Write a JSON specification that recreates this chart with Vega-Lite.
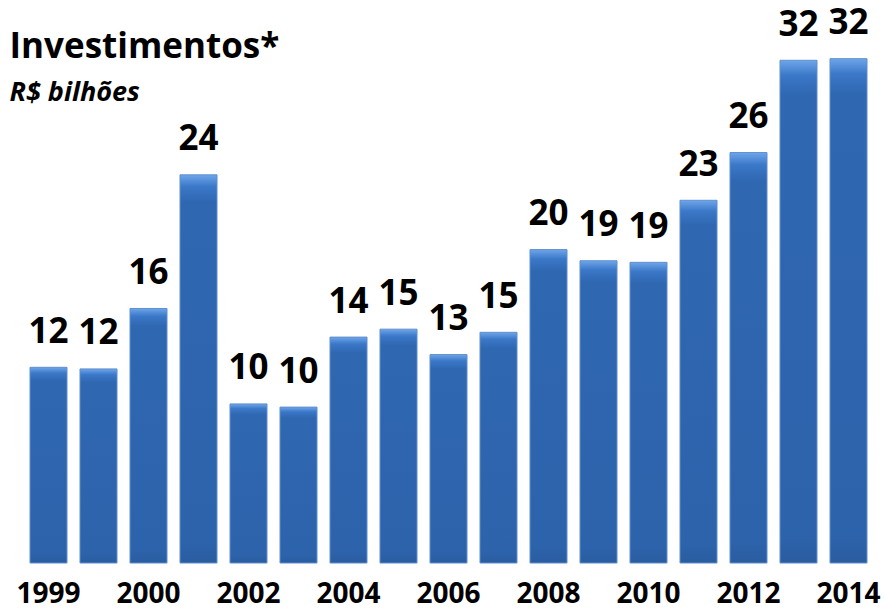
{
  "$schema": "https://vega.github.io/schema/vega-lite/v6.json",
  "width": 850,
  "height": 563,
  "autosize": {"type": "none"},
  "padding": {"left": 23.5, "top": 0, "right": 11.5, "bottom": 45},
  "background": "white",
  "config": {"view": {"stroke": null}},
  "title": {
    "text": "Investimentos*",
    "subtitle": "R$ bilhões",
    "anchor": "start",
    "frame": "group",
    "font": "Open Sans",
    "fontSize": 35,
    "fontWeight": "bold",
    "color": "#000000",
    "subtitleFont": "Open Sans",
    "subtitleFontSize": 27,
    "subtitleFontWeight": "bold",
    "subtitleFontStyle": "italic",
    "subtitleColor": "#000000",
    "subtitlePadding": 15,
    "offset": -106,
    "dx": -14
  },
  "data": {
    "values": [
      {"periodo": "1999", "valor": 12.3},
      {"periodo": "1999b", "valor": 12.2},
      {"periodo": "2000", "valor": 16.0},
      {"periodo": "2001", "valor": 24.4},
      {"periodo": "2002", "valor": 10.0},
      {"periodo": "2003", "valor": 9.8},
      {"periodo": "2004", "valor": 14.2},
      {"periodo": "2005", "valor": 14.7},
      {"periodo": "2006", "valor": 13.1},
      {"periodo": "2007", "valor": 14.5},
      {"periodo": "2008", "valor": 19.7},
      {"periodo": "2009", "valor": 19.0},
      {"periodo": "2010", "valor": 18.9},
      {"periodo": "2011", "valor": 22.8},
      {"periodo": "2012", "valor": 25.8},
      {"periodo": "2013", "valor": 31.6},
      {"periodo": "2014", "valor": 31.7}
    ]
  },
  "encoding": {
    "x": {
      "field": "periodo",
      "type": "ordinal",
      "sort": null,
      "scale": {"paddingInner": 0.26, "paddingOuter": 0.13},
      "axis": {
        "title": null,
        "domain": false,
        "ticks": false,
        "labelAngle": 0,
        "labelFont": "Open Sans",
        "labelFontSize": 28,
        "labelFontWeight": "bold",
        "labelColor": "#000000",
        "labelBaseline": "alphabetic",
        "labelPadding": 39,
        "labelOverlap": false,
        "labelExpr": "indexof(['1999','2000','2002','2004','2006','2008','2010','2012','2014'], datum.value) >= 0 ? datum.value : ''"
      }
    },
    "y": {
      "field": "valor",
      "type": "quantitative",
      "scale": {"domain": [0, 35.39], "nice": false, "zero": true},
      "axis": null
    }
  },
  "layer": [
    {
      "mark": {
        "type": "bar",
        "stroke": "#5f8fcf",
        "strokeWidth": 1,
        "color": {
          "gradient": "linear",
          "x1": 0, "y1": 0, "x2": 0, "y2": 1,
          "stops": [
            {"offset": 0, "color": "#6fa6ea"},
            {"offset": 0.03, "color": "#3b78c8"},
            {"offset": 0.07, "color": "#2f67b1"},
            {"offset": 0.95, "color": "#2d63ab"},
            {"offset": 1, "color": "#2a5c9f"}
          ]
        }
      }
    },
    {
      "mark": {
        "type": "text",
        "font": "Open Sans",
        "fontSize": 35,
        "fontWeight": "bold",
        "color": "#000000",
        "baseline": "alphabetic",
        "align": "center",
        "dy": -24.5
      },
      "encoding": {
        "text": {"field": "valor", "type": "quantitative", "format": ".0f"}
      }
    }
  ]
}
